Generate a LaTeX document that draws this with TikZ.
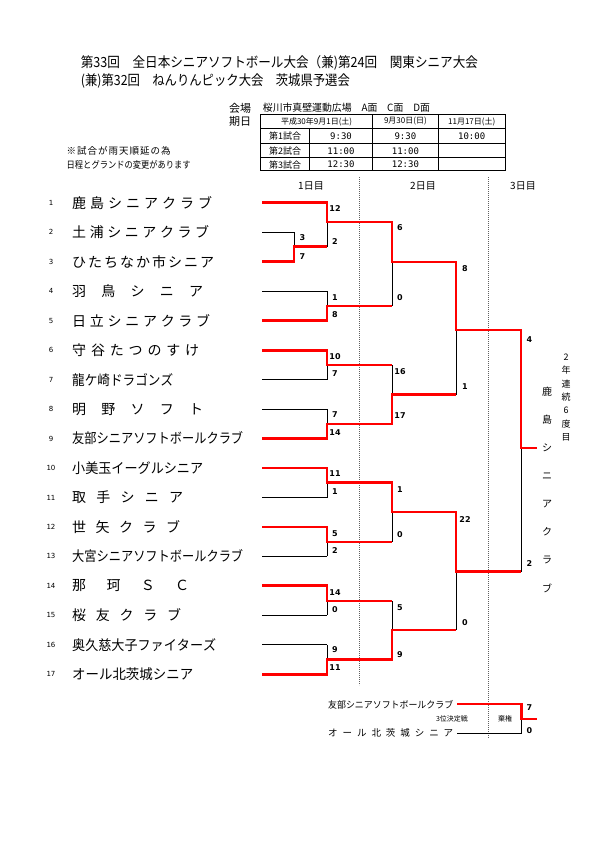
\documentclass[tikz,border=0pt]{standalone}
\usepackage{fontspec}
\usepackage{graphicx}
\setmainfont{Noto Sans CJK JP}
\newfontfamily\numfont{DejaVu Sans}
\newfontfamily\monofont{DejaVu Sans Mono}
\def\sprA#1{#1\sprB}
\def\sprB#1{\ifx#1\relax\else\hfil#1\expandafter\sprB\fi}
\newcommand\tname[2]{\setbox0=\hbox{\expandafter\sprA#2\relax}\ifdim\wd0>#1\relax\resizebox{#1}{\height}{\box0}\else\hbox to #1{\expandafter\sprA#2\relax}\fi}
\newcommand\fitw[2]{\resizebox{#1}{\height}{#2}}
\definecolor{winred}{RGB}{255,0,0}
\definecolor{dotgray}{RGB}{95,95,95}
\tikzset{
  team/.style={anchor=west, inner sep=0pt, font=\fontsize{14}{14}\selectfont},
  rownum/.style={inner sep=0pt, font=\numfont\fontsize{7}{8}\selectfont},
  score/.style={inner sep=0pt, font=\numfont\bfseries\fontsize{8}{9}\selectfont},
  bk/.style={line width=0.8pt, black},
  rd/.style={line width=2.9pt, winred},
  dotline/.style={dotgray, line width=0.8pt, dash pattern=on 1.1pt off 0.9pt},
  tblout/.style={line width=1pt, black},
  tblin/.style={line width=0.6pt, black},
  tblh/.style={inner sep=0pt, font=\fontsize{8}{9}\selectfont},
  tblb/.style={inner sep=0pt, font=\fontsize{9}{10}\selectfont},
  tbltime/.style={inner sep=0pt, font=\monofont\fontsize{9}{10}\selectfont},
  small/.style={inner sep=0pt, font=\fontsize{9.5}{10}\selectfont},
  day/.style={inner sep=0pt, font=\fontsize{10}{11}\selectfont},
  vchar/.style={inner sep=0pt, font=\fontsize{10}{11}\selectfont},
  vsmall/.style={inner sep=0pt, font=\fontsize{9}{10}\selectfont},
  tiny/.style={inner sep=0pt, font=\fontsize{7}{8}\selectfont},
}
\begin{document}
\begin{tikzpicture}[x=1pt,y=-1pt]
\useasboundingbox[fill=white] (0,0) rectangle (600,848);

% ---------- title ----------
\node[anchor=west, inner sep=0pt, font=\fontsize{14}{14}\selectfont] (title1) at (80.7,63.3)
  {\fitw{397pt}{第33回　全日本シニアソフトボール大会（兼)第24回　関東シニア大会}};
\node[anchor=west, inner sep=0pt, font=\fontsize{14}{14}\selectfont] (title2) at (80.7,80.7)
  {\fitw{269pt}{(兼)第32回　ねんりんピック大会　茨城県予選会}};

% ---------- venue and table ----------
\node[inner sep=0pt, font=\fontsize{11}{12}\selectfont] (kaijo) at (240,108) {会場};
\node[inner sep=0pt, font=\fontsize{11}{12}\selectfont] (kijitsu) at (240,121.5) {期日};
\node[anchor=west, inner sep=0pt, font=\fontsize{10}{11}\selectfont] (venue) at (262.7,108)
  {\fitw{167pt}{桜川市真壁運動広場　A面　C面　D面}};

\draw[tblin] (260.7,128.3) -- (505,128.3);
\draw[tblin] (260.7,143.3) -- (505,143.3);
\draw[tblin] (260.7,157.5) -- (505,157.5);
\draw[tblin] (309.3,128.3) -- (309.3,170.8);
\draw[tblin] (372.5,114.3) -- (372.5,170.8);
\draw[tblin] (438.3,114.3) -- (438.3,170.8);
\draw[tblout] (260.7,114.3) rectangle (505,170.8);

\node[tblh] (hd1) at (316.6,121.5) {平成30年9月1日(土)};
\node[tblh] (hd2) at (405.4,121.5) {9月30日(日)};
\node[tblh] (hd3) at (471.7,121.5) {11月17日(土)};
\node[tblb] (g1) at (285,136.3) {第1試合};
\node[tblb] (g2) at (285,150.8) {第2試合};
\node[tblb] (g3) at (285,164.6) {第3試合};
\node[tbltime] (t11) at (341,136.3) {9:30};
\node[tbltime] (t12) at (405.4,136.3) {9:30};
\node[tbltime] (t13) at (471.7,136.3) {10:00};
\node[tbltime] (t21) at (341,150.8) {11:00};
\node[tbltime] (t22) at (405.4,150.8) {11:00};
\node[tbltime] (t31) at (341,164.6) {12:30};
\node[tbltime] (t32) at (405.4,164.6) {12:30};

\node[small, anchor=west] (note1) at (66.5,150.5) {\tname{104pt}{※試合が雨天順延の為}};
\node[small, anchor=west] (note2) at (66.5,164.5) {\tname{124pt}{日程とグランドの変更があります}};

% ---------- day headers and dotted separators ----------
\node[day] (day1) at (311,186) {1日目};
\node[day] (day2) at (423,186) {2日目};
\node[day] (day3) at (523,186) {3日目};
\draw[dotline] (359,177) -- (359,685);
\draw[dotline] (488.5,177) -- (488.5,738);

% ---------- teams ----------
\foreach \i/\w/\nm in {
  1/140/鹿島シニアクラブ, 2/137/土浦シニアクラブ, 3/142/ひたちなか市シニア,
  4/131/羽鳥シニア, 5/138/日立シニアクラブ, 6/127/守谷たつのすけ,
  7/101/龍ケ崎ドラゴンズ, 8/131/明野ソフト, 9/171/友部シニアソフトボールクラブ,
  10/131/小美玉イーグルシニア, 11/111/取手シニア, 12/108/世矢クラブ,
  13/171/大宮シニアソフトボールクラブ, 14/117/那珂ＳＣ, 15/109/桜友クラブ,
  16/144/奥久慈大子ファイターズ, 17/121/オール北茨城シニア}
{
  \pgfmathsetmacro{\yy}{202.8+(\i-1)*29.47}
  \node[rownum] (n\i) at (51,\yy) {\i};
  \node[team] (t\i) at (72,\yy) {\tname{\w pt}{\nm}};
}

% ---------- bracket (black) ----------
\foreach \y in {202.8,291.2,320.7,350.2,379.6,409.1,438.6,468.0,497.5,527.0,556.4,585.9,615.4,644.8,674.3}
  \draw[bk] (262,\y) -- (327,\y);
\draw[bk] (262,232.3) -- (294,232.3);
\draw[bk] (262,261.7) -- (294,261.7);
\draw[bk] (294,232.3) -- (294,261.7);
\draw[bk] (294,246.5) -- (327,246.5);
\draw[bk] (327,202.8) -- (327,246.5);
\foreach \a/\b in {291.2/320.7,350.2/379.6,409.1/438.6,468.0/497.5,527.0/556.4,585.9/615.4,644.8/674.3}
  \draw[bk] (327,\a) -- (327,\b);
\foreach \y in {222,306,365,424,482.5,542,601,659.5}
  \draw[bk] (327,\y) -- (392,\y);
\foreach \a/\b in {222/306,365/424,482.5/542,601/659.5}
  \draw[bk] (392,\a) -- (392,\b);
\foreach \y in {262,394.5,512,630}
  \draw[bk] (392,\y) -- (456,\y);
\draw[bk] (456,262) -- (456,394.5);
\draw[bk] (456,512) -- (456,630);
\draw[bk] (456,330) -- (521,330);
\draw[bk] (456,571.5) -- (521,571.5);
\draw[bk] (521,330) -- (521,571.5);

% ---------- winners (red) ----------
\draw[rd] (262,202.8) -- (327,202.8) -- (327,222) -- (392,222) -- (392,262) -- (456,262)
  -- (456,330) -- (521,330) -- (521,448) -- (537,448);
\draw[rd] (262,261.7) -- (294,261.7) -- (294,246.5) -- (327,246.5);
\draw[rd] (262,320.7) -- (327,320.7) -- (327,306) -- (392,306);
\draw[rd] (262,350.2) -- (327,350.2) -- (327,365) -- (392,365);
\draw[rd] (262,438.6) -- (327,438.6) -- (327,424) -- (392,424) -- (392,394.5) -- (456,394.5);
\draw[rd] (262,468.0) -- (327,468.0) -- (327,482.5) -- (392,482.5) -- (392,512) -- (456,512)
  -- (456,571.5) -- (521,571.5);
\draw[rd] (262,527.0) -- (327,527.0) -- (327,542) -- (392,542);
\draw[rd] (262,585.9) -- (327,585.9) -- (327,601) -- (392,601);
\draw[rd] (262,674.3) -- (327,674.3) -- (327,659.5) -- (392,659.5) -- (392,630) -- (456,630);

% ---------- scores ----------
\foreach \x/\y/\s [count=\k] in {
  302.5/238/3, 302.5/257/7,
  335/209/12, 335/241.5/2, 335/298/1, 335/315/8,
  335/356.7/10, 335/374/7, 335/415/7, 335/433/14,
  335/474/11, 335/491.7/1, 335/534/5, 335/551/2,
  335/592.7/14, 335/610/0, 335/650/9, 335/667.3/11,
  400/228/6, 400/298/0, 400/371.7/16, 400/416/17,
  400/490/1, 400/534.3/0, 400/607.3/5, 400/654.3/9,
  465/269/8, 465/386.7/1, 465/519.3/22, 465/622.3/0,
  529.5/340/4, 529.5/564/2,
  529.5/707.3/7, 529.5/730.7/0}
  \node[score] (sc\k) at (\x,\y) {\s};

% ---------- champion (vertical text) ----------
\foreach \c [count=\k from 0] in {鹿,島,シ,ニ,ア,ク,ラ,ブ}
  \node[vchar] (ch\k) at (547,392+28*\k) {\c};
\foreach \c [count=\k from 0] in {2,年,連,続,6,度,目}
  \node[vsmall] (rec\k) at (566,357+13.33*\k) {\c};

% ---------- third place match ----------
\node[anchor=west, inner sep=0pt, font=\fontsize{9.5}{10}\selectfont] (tp1) at (328,704.5)
  {\tname{125pt}{友部シニアソフトボールクラブ}};
\node[anchor=west, inner sep=0pt, font=\fontsize{9.5}{10}\selectfont] (tp2) at (328,733)
  {\tname{125pt}{オール北茨城シニア}};
\node[tiny] (third) at (452,719) {3位決定戦};
\node[tiny] (kiken) at (505,719) {棄権};
\draw[bk] (457,733) -- (521.7,733) -- (521.7,719);
\draw[rd] (457,704) -- (521.7,704) -- (521.7,719) -- (536.7,719);
\end{tikzpicture}
\end{document}
